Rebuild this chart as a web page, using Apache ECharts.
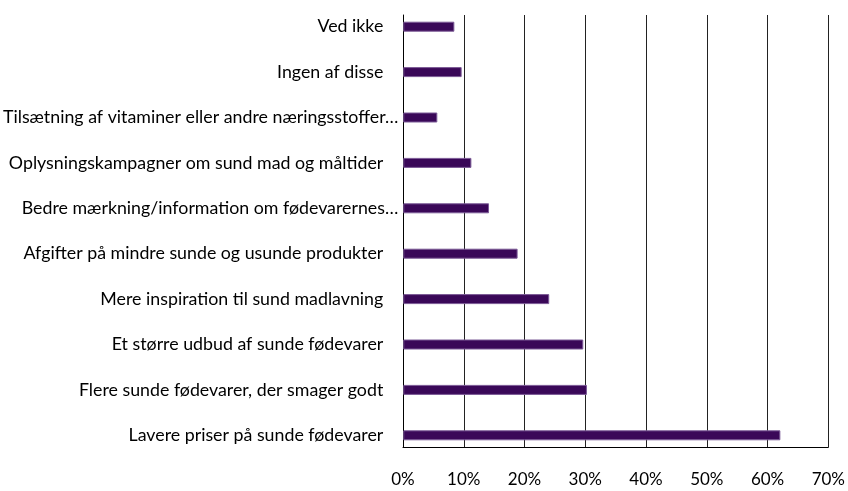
<!DOCTYPE html>
<html>
<head>
<meta charset="utf-8">
<script src="https://cdn.jsdelivr.net/npm/echarts@6/dist/echarts.min.js"></script>
<style>
  html, body { margin: 0; padding: 0; background: #fff; }
  #main { width: 848px; height: 491px; }
</style>
</head>
<body>
<div id="main"></div>
<script>
// svar, oppefra og ned
var categories = [
  'Ved ikke',
  'Ingen af disse',
  'Tilsætning af vitaminer eller andre næringsstoffer…',
  'Oplysningskampagner om sund mad og måltider',
  'Bedre mærkning/information om fødevarernes…',
  'Afgifter på mindre sunde og usunde produkter',
  'Mere inspiration til sund madlavning',
  'Et større udbud af sunde fødevarer',
  'Flere sunde fødevarer, der smager godt',
  'Lavere priser på sunde fødevarer'
];
var values = [8.4, 9.6, 5.6, 11.2, 14.1, 18.8, 24.0, 29.6, 30.2, 62.0];
var xTicks = [0, 10, 20, 30, 40, 50, 60, 70];

var font = 'Lato';
var chart = echarts.init(document.getElementById('main'));

var option = {
  animation: false,
  backgroundColor: '#fff',
  grid: [
    // bjælker + kategorier
    { left: 403, width: 426, top: 4, height: 454 },
    // gitter + x-akse
    { left: 403, width: 426, top: 15, height: 432 }
  ],
  xAxis: [{
    gridIndex: 0,
    type: 'value',
    min: xTicks[0],
    max: xTicks[xTicks.length - 1],
    interval: 10,
    show: false
  }, {
    gridIndex: 1,
    type: 'value',
    min: xTicks[0],
    max: xTicks[xTicks.length - 1],
    interval: 10,
    axisLine: { show: true, lineStyle: { color: '#000', width: 1 } },
    axisTick: { show: false },
    splitLine: { show: true, lineStyle: { color: '#222', width: 1 } },
    axisLabel: {
      formatter: '{value}%',
      color: '#000',
      fontFamily: font,
      fontSize: 17,
      margin: 24
    }
  }],
  yAxis: [{
    gridIndex: 0,
    type: 'category',
    inverse: true,
    data: categories,
    axisLine: { show: false },
    axisTick: { show: false },
    axisLabel: {
      color: '#000',
      fontFamily: font,
      fontSize: 17.8,
      margin: 5,
      formatter: function (v) {
        return v.slice(-1) === '…' ? v : v + '{s| }';
      },
      rich: { s: { width: 15 } }
    }
  }, {
    gridIndex: 1,
    type: 'category',
    data: categories,
    axisLine: { show: true, lineStyle: { color: '#000', width: 1 } },
    axisTick: { show: false },
    axisLabel: { show: false },
    splitLine: { show: false }
  }],
  series: [{
    type: 'bar',
    xAxisIndex: 0,
    yAxisIndex: 0,
    data: values,
    barWidth: 10,
    itemStyle: { color: '#3a0858', borderColor: '#7b5a96', borderWidth: 1 },
    z: 5
  }]
};
chart.setOption(option);
</script>
</body>
</html>
